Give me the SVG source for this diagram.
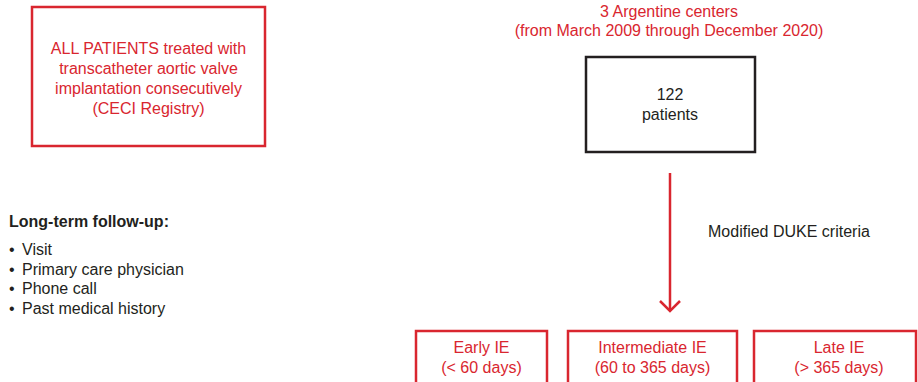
<svg xmlns="http://www.w3.org/2000/svg" width="918" height="382" viewBox="0 0 918 382">
<style>
.red{fill:none;stroke:#d9262f;stroke-width:2.5}
.blk{fill:none;stroke:#231f20;stroke-width:2.5}
text{font-family:"Liberation Sans",Arial,sans-serif;font-size:16px}
.rt{fill:#d9262f;text-anchor:middle}
.dt{fill:#231f20}
.ct{fill:#231f20;text-anchor:middle}
</style>
<rect width="918" height="382" fill="#fff"/>
<g id="allpatients">
<rect class="red" x="32" y="7" width="233" height="139"/>
<text class="rt" x="148.5" y="54">ALL PATIENTS treated with</text>
<text class="rt" x="148.5" y="74">transcatheter aortic valve</text>
<text class="rt" x="148.5" y="94">implantation consecutively</text>
<text class="rt" x="148.5" y="114">(CECI Registry)</text>
</g>
<g id="centers">
<text class="rt" x="669" y="17">3 Argentine centers</text>
<text class="rt" x="669" y="36">(from March 2009 through December 2020)</text>
</g>
<g id="patients">
<rect class="blk" x="586" y="57" width="169" height="95"/>
<text class="ct" x="670" y="100">122</text>
<text class="ct" x="670" y="120">patients</text>
</g>
<g id="followup">
<text class="dt" x="9" y="227" font-weight="bold">Long-term follow-up:</text>
<text class="dt" x="9" y="255">•</text><text class="dt" x="22" y="255">Visit</text>
<text class="dt" x="9" y="275">•</text><text class="dt" x="22" y="275">Primary care physician</text>
<text class="dt" x="9" y="294">•</text><text class="dt" x="22" y="294">Phone call</text>
<text class="dt" x="9" y="314">•</text><text class="dt" x="22" y="314">Past medical history</text>
</g>
<g id="connectors">
<line x1="670" y1="173" x2="670" y2="311" stroke="#d9262f" stroke-width="2.5"/>
<polyline points="660,301 670,311 680,301" fill="none" stroke="#d9262f" stroke-width="2.5"/>
<text class="dt" x="708" y="237">Modified DUKE criteria</text>
</g>
<g id="early">
<rect class="red" x="416" y="331" width="131" height="60"/>
<text class="rt" x="481.5" y="353">Early IE</text>
<text class="rt" x="481.5" y="373">(&lt; 60 days)</text>
</g>
<g id="intermediate">
<rect class="red" x="568" y="331" width="169" height="60"/>
<text class="rt" x="652.5" y="353">Intermediate IE</text>
<text class="rt" x="652.5" y="373">(60 to 365 days)</text>
</g>
<g id="late">
<rect class="red" x="754" y="331" width="162" height="60"/>
<text class="rt" x="839" y="353">Late IE</text>
<text class="rt" x="839" y="373">(&gt; 365 days)</text>
</g>
</svg>
